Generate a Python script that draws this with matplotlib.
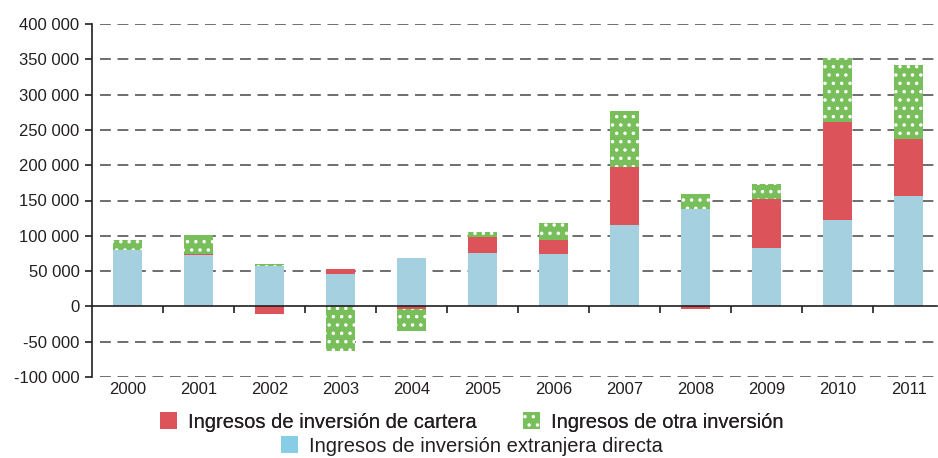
import numpy as np
import matplotlib
matplotlib.use("Agg")
import matplotlib.pyplot as plt
from matplotlib.patches import Patch
from matplotlib.ticker import FuncFormatter, MultipleLocator

plt.rcParams['font.family'] = ['Liberation Sans', 'DejaVu Sans']
plt.rcParams['hatch.linewidth'] = 1.3

# --- datos ---
years = ['2000', '2001', '2002', '2003', '2004', '2005',
         '2006', '2007', '2008', '2009', '2010', '2011']
ied = [80000, 73000, 57000, 46500, 68500, 76000,
       74500, 116000, 137500, 83000, 122000, 156500]
cartera = [0, 1500, -10500, 6000, -3300, 22000,
           19000, 82000, -4300, 69500, 138500, 81000]
otra = [14000, 26500, 2500, -62500, -32000, 8000,
        25000, 79000, 22000, 21000, 92000, 104000]

lbl_cartera = 'Ingresos de inversión de cartera'
lbl_otra = 'Ingresos de otra inversión'
lbl_ied = 'Ingresos de inversión extranjera directa'

TXT = '#231F20'
RED = '#DC545A'
GREEN = '#78BE5A'
BLUE = '#A4D0E0'
BLUE_LEG = '#86CDE5'

fig = plt.figure(figsize=(9.38, 4.58), dpi=100)
ax = fig.add_axes([92/938, 1 - 377/458, (937 - 92)/938, (377 - 24)/458])

x = np.arange(len(years))
w = 0.41

# apilado separado para positivos y negativos
pos = np.zeros(len(years))
neg = np.zeros(len(years))
bars = []
for vals, col, hatch in [(ied, BLUE, None), (cartera, RED, None), (otra, GREEN, '..')]:
    v = np.array(vals, dtype=float)
    base = np.where(v >= 0, pos, neg)
    b = ax.bar(x, v, w, bottom=base, color=col, hatch=hatch,
               edgecolor='white' if hatch else col, linewidth=0, zorder=3)
    bars.append(b)
    pos = pos + np.where(v > 0, v, 0)
    neg = neg + np.where(v < 0, v, 0)

ax.set_xlim(-0.5, 11.4)
ax.set_ylim(-100000, 400000)

# rejilla discontinua
for yv in np.arange(-100000, 400001, 50000):
    if yv != 0:
        ax.axhline(yv, xmin=0.01, color='#555555', lw=1.2,
                   dashes=(6.5, 4), zorder=1)

ax.yaxis.set_major_locator(MultipleLocator(50000))
ax.yaxis.set_major_formatter(FuncFormatter(lambda v, p: f"{v:,.0f}".replace(',', ' ')))
ax.tick_params(axis='y', direction='out', length=5, width=1.2, color=TXT,
               labelsize=12, labelcolor=TXT, pad=4)

for s in ['top', 'right']:
    ax.spines[s].set_visible(False)
ax.spines['left'].set_color(TXT)
ax.spines['left'].set_linewidth(1.2)
ax.spines['bottom'].set_position(('data', 0))
ax.spines['bottom'].set_color(TXT)
ax.spines['bottom'].set_linewidth(1.2)
ax.spines['bottom'].set_zorder(4)

ax.set_xticks(np.arange(0.5, len(years) - 0.5, 1))
ax.tick_params(axis='x', direction='out', length=5, width=1.2, color=TXT,
               labelbottom=False)

for xi, yr in zip(x, years):
    ax.text(xi, -0.035, yr, transform=ax.get_xaxis_transform(),
            ha='center', va='center', fontsize=12, color=TXT)

# leyenda
leg1 = fig.legend([bars[1], bars[2]], [lbl_cartera, lbl_otra], ncol=2,
                  loc='center', bbox_to_anchor=(0.503, 1 - 422/458),
                  frameon=False, fontsize=14.5, handlelength=0.85,
                  handleheight=0.85, handletextpad=0.55, columnspacing=2.3,
                  borderpad=0, borderaxespad=0)
for t in leg1.get_texts():
    t.set_color(TXT)
leg2 = fig.legend([Patch(facecolor=BLUE_LEG)], [lbl_ied],
                  loc='center', bbox_to_anchor=(0.503, 1 - 446/458),
                  frameon=False, fontsize=14.5, handlelength=0.85,
                  handleheight=0.85, handletextpad=0.55,
                  borderpad=0, borderaxespad=0)
for t in leg2.get_texts():
    t.set_color(TXT)
fig.add_artist(leg1)

fig.savefig('out.png', dpi=100)
